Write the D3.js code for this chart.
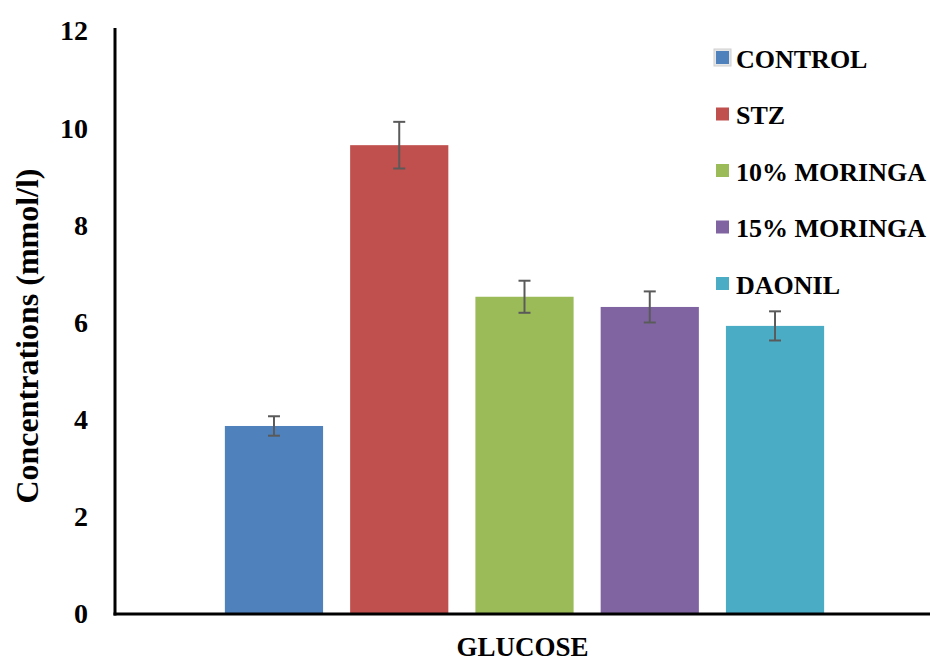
<!DOCTYPE html>
<html>
<head>
<meta charset="utf-8">
<script src="https://cdn.jsdelivr.net/npm/d3@7"></script>
<style>
  body { margin: 0; background: #fff; }
  svg { display: block; }
  text { font-family: "Liberation Serif", "Times New Roman", serif; font-weight: bold; fill: #000; }
</style>
</head>
<body>
<svg id="chart" width="930" height="662"></svg>
<script>
const categories = ["GLUCOSE"];
const seriesNames = ["CONTROL", "STZ", "10% MORINGA", "15% MORINGA", "DAONIL"];
const seriesValues = [3.87, 9.65, 6.53, 6.32, 5.93];
const seriesErrors = [0.20, 0.48, 0.33, 0.32, 0.30];
const seriesColors = ["#4F81BD", "#C0504D", "#9BBB59", "#8064A2", "#4BACC6"];
const yTicks = [0, 2, 4, 6, 8, 10, 12];

const svg = d3.select("#chart");
const mLeft = 115, mRight = 930, mTop = 31, mBottom = 614;

const y = d3.scaleLinear().domain([0, 12]).range([mBottom, mTop]);
const x0 = d3.scaleBand().domain(categories).range([mLeft, mRight]).paddingInner(0).paddingOuter(0.18);
const x1 = d3.scaleBand().domain(seriesNames).range([0, x0.bandwidth()]).paddingInner(0.216).paddingOuter(0);

const data = seriesNames.map((s, i) => ({ name: s, value: seriesValues[i], err: seriesErrors[i], color: seriesColors[i] }));

// bars
const g = svg.append("g").attr("transform", `translate(${x0("GLUCOSE") + 2},0)`);
g.selectAll("rect.bar").data(data).join("rect")
  .attr("class", "bar")
  .attr("x", d => x1(d.name))
  .attr("width", x1.bandwidth())
  .attr("y", d => y(d.value))
  .attr("height", d => y(0) - y(d.value))
  .attr("fill", d => d.color);

// error bars
const eb = g.selectAll("g.err").data(data).join("g").attr("class", "err")
  .attr("stroke", "#5a5a5a").attr("stroke-width", 2);
eb.append("line")
  .attr("x1", d => x1(d.name) + x1.bandwidth() / 2)
  .attr("x2", d => x1(d.name) + x1.bandwidth() / 2)
  .attr("y1", d => y(d.value + d.err))
  .attr("y2", d => y(d.value - d.err));
eb.append("line")
  .attr("x1", d => x1(d.name) + x1.bandwidth() / 2 - 6)
  .attr("x2", d => x1(d.name) + x1.bandwidth() / 2 + 6)
  .attr("y1", d => y(d.value + d.err))
  .attr("y2", d => y(d.value + d.err));
eb.append("line")
  .attr("x1", d => x1(d.name) + x1.bandwidth() / 2 - 6)
  .attr("x2", d => x1(d.name) + x1.bandwidth() / 2 + 6)
  .attr("y1", d => y(d.value - d.err))
  .attr("y2", d => y(d.value - d.err));

// y axis
const yAxis = d3.axisLeft(y).tickValues(yTicks).tickSize(0).tickPadding(27).tickFormat(d3.format("d"));
const ya = svg.append("g").attr("transform", `translate(${mLeft},0)`).call(yAxis);
ya.select(".domain").remove();
ya.selectAll("text").attr("font-size", 28).attr("font-family", "Liberation Serif").attr("font-weight", "bold").attr("fill", "#000");
svg.append("line").attr("x1", mLeft).attr("x2", mLeft).attr("y1", mTop - 3).attr("y2", mBottom + 1.5)
  .attr("stroke", "#000").attr("stroke-width", 3);

// x axis
const xAxis = d3.axisBottom(x0).tickSize(0).tickPadding(0);
const xa = svg.append("g").attr("transform", `translate(0,${mBottom})`).call(xAxis);
xa.select(".domain").remove();
xa.selectAll("text").attr("font-size", 27).attr("font-family", "Liberation Serif").attr("font-weight", "bold").attr("fill", "#000")
  .attr("y", 42).attr("dy", null);
svg.append("line").attr("x1", mLeft - 1.5).attr("x2", mRight).attr("y1", mBottom).attr("y2", mBottom)
  .attr("stroke", "#000").attr("stroke-width", 3);

// y title
svg.append("text")
  .attr("transform", `translate(38,336) rotate(-90)`)
  .attr("text-anchor", "middle")
  .attr("font-size", 32)
  .text("Concentrations (mmol/l)");

// legend
const leg = svg.append("g");
const rows = leg.selectAll("g").data(data).join("g")
  .attr("transform", (d, i) => `translate(716,${67.5 + i * 56.5})`);
rows.filter((d, i) => i === 0).append("rect")
  .attr("x", -2).attr("y", -18.5).attr("width", 17).attr("height", 17)
  .attr("fill", "#e6e6e6").attr("stroke", "#cfcfcf").attr("stroke-width", 1);
rows.append("rect")
  .attr("x", 0).attr("y", -16.5).attr("width", 13).attr("height", 13)
  .attr("fill", d => d.color);
rows.append("text")
  .attr("x", 20).attr("y", 0)
  .attr("font-size", 26)
  .text(d => d.name);
</script>
</body>
</html>
